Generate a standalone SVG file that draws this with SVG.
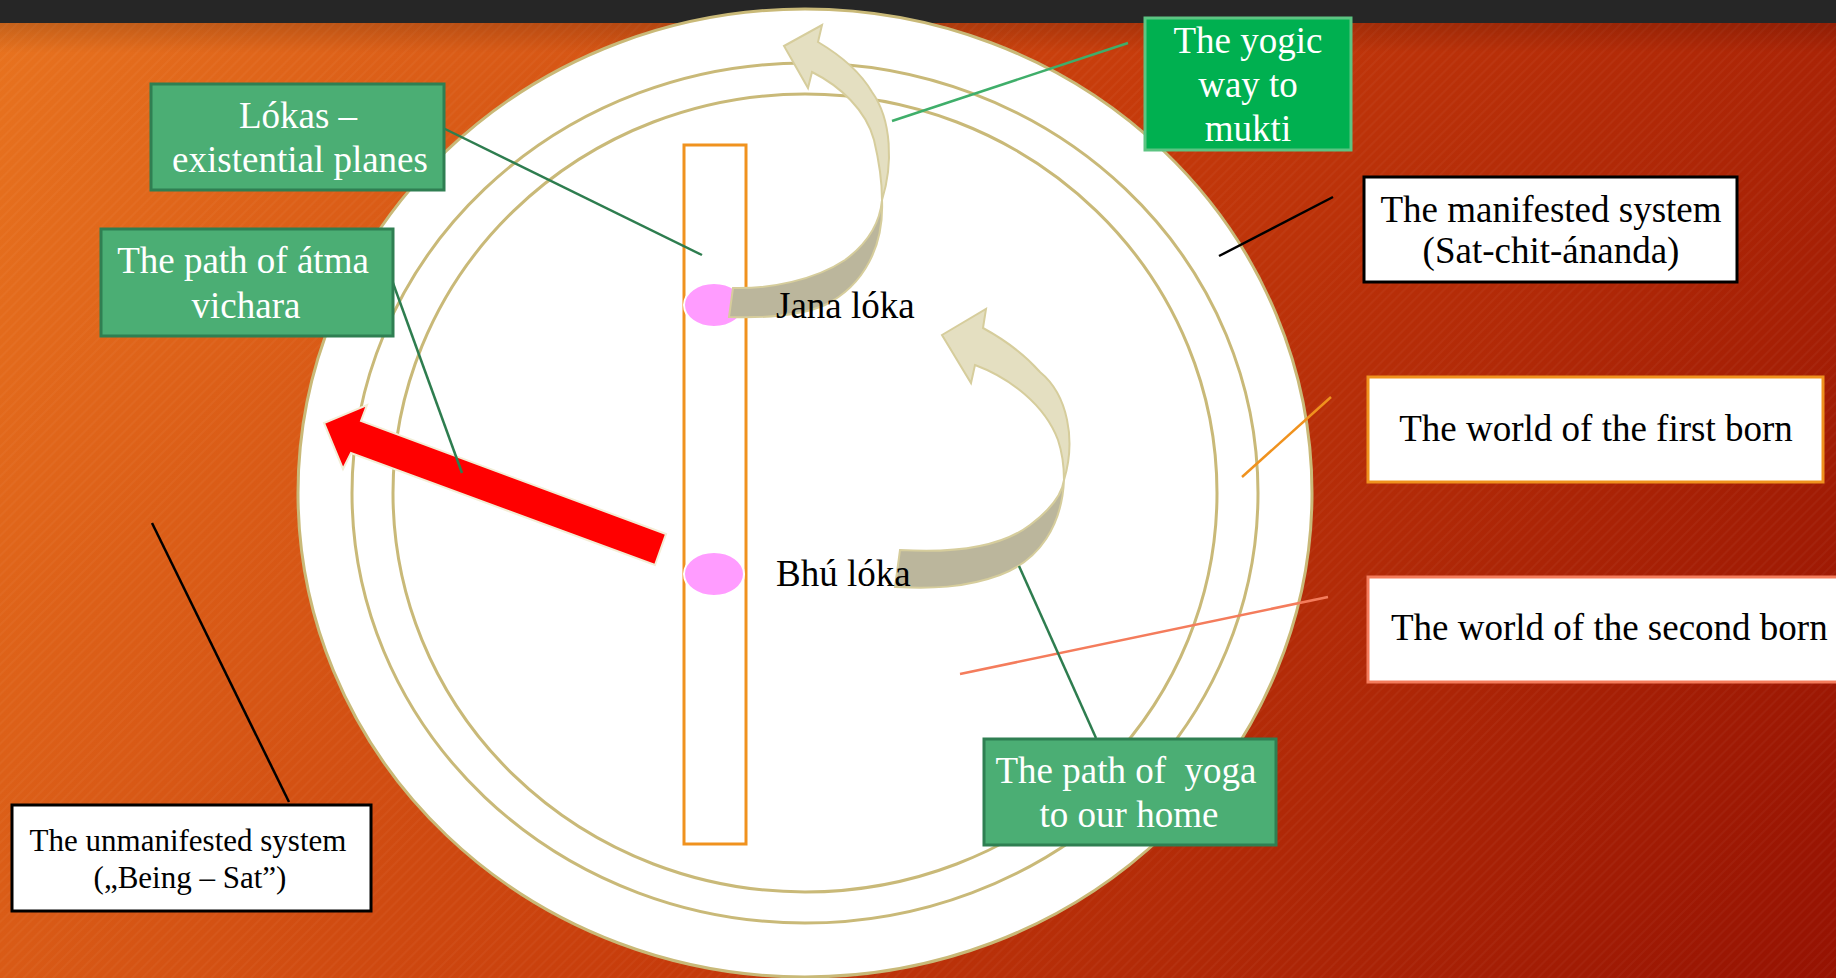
<svg xmlns="http://www.w3.org/2000/svg" width="1836" height="978" viewBox="0 0 1836 978">
<defs>
<linearGradient id="bg" gradientUnits="userSpaceOnUse" x1="0" y1="0" x2="1836" y2="978">
<stop offset="0" stop-color="#e8731f"/>
<stop offset="0.5" stop-color="#c63b0b"/>
<stop offset="1" stop-color="#961202"/>
</linearGradient>
<linearGradient id="shadow" x1="0" y1="0" x2="0" y2="1">
<stop offset="0" stop-color="#000" stop-opacity="0.15"/>
<stop offset="1" stop-color="#000" stop-opacity="0"/>
</linearGradient>
<pattern id="stripes" width="7" height="7" patternUnits="userSpaceOnUse" patternTransform="rotate(45)">
<rect x="0" y="0" width="2" height="7" fill="#fff" fill-opacity="0.035"/>
</pattern>
<style>
.ring{fill:none;stroke:#c9b978;stroke-width:3}
.gbox{fill:#4bae74;stroke:#2f7f52;stroke-width:3}
.ybox{fill:#00b050;stroke:#5cc482;stroke-width:3}
.wbox{fill:#fff;stroke:#000;stroke-width:3}
.t{font-family:"Liberation Serif","Times New Roman",serif;font-size:37px}
.ts{font-family:"Liberation Serif","Times New Roman",serif;font-size:31px}
.w{fill:#fff}
.k{fill:#000}
.light{fill:#e4dfc1;stroke:#d6cd9c;stroke-width:2}
.dark{fill:#bbb69c;stroke:#d6cd9c;stroke-width:2}
.dot{fill:#ff9cff;stroke:#fff;stroke-width:2}
</style>
</defs>
<rect width="1836" height="978" fill="url(#bg)"/>
<rect width="1836" height="978" fill="url(#stripes)"/>
<rect x="0" y="23" width="1836" height="30" fill="url(#shadow)"/>
<rect x="0" y="0" width="1836" height="23" fill="#262626"/>

<g id="circle">
<ellipse cx="805" cy="493" rx="507" ry="484" fill="#fff" stroke="#c9b978" stroke-width="3"/>
<ellipse class="ring" cx="805" cy="493" rx="453" ry="430"/>
<ellipse class="ring" cx="805" cy="493" rx="412" ry="399"/>
</g>

<g id="column">
<rect x="684" y="145" width="62" height="699" fill="#fff" stroke="#f0921e" stroke-width="3"/>
<ellipse class="dot" cx="714" cy="305" rx="30" ry="22"/>
<ellipse class="dot" cx="714" cy="574" rx="30" ry="22"/>
</g>

<g id="red-arrow">
<polygon points="666,534 361,421 367,405 324,423 343,469 351,453 655,565" fill="#ff0000" stroke="#f3edd6" stroke-width="2" stroke-linejoin="miter"/>
</g>

<g id="arrow-upper">
<path class="dark" d="M 882,200 C 884,245 865,285 825,305 C 800,316 760,318 729,317 L 733,288 C 770,289 815,280 845,260 C 868,243 880,222 882,200 Z"/>
<path class="light" d="M 882,200 C 893,165 892,120 872,92 C 862,75 845,58 818,42 L 822,25 L 784,46 L 808,88 L 812,72 C 840,86 866,110 874,140 C 880,165 882,185 882,200 Z"/>
</g>

<g id="arrow-lower">
<path class="dark" d="M 1064,480 C 1062,525 1040,560 1000,575 C 965,588 930,589 895,587 L 900,550 C 950,553 1000,548 1030,525 C 1050,510 1062,495 1064,480 Z"/>
<path class="light" d="M 1064,480 C 1076,440 1068,395 1040,372 C 1025,355 1005,340 983,328 L 986,309 L 942,335 L 971,383 L 975,365 C 1010,378 1045,405 1058,440 C 1063,455 1064,468 1064,480 Z"/>
</g>

<g id="labels-loka">
<text class="t k" x="776" y="318">Jana lóka</text>
<text class="t k" x="776" y="586">Bhú lóka</text>
</g>

<g id="connectors" fill="none" stroke-width="2.5">
<line x1="441" y1="127" x2="702" y2="255" stroke="#2e7d4f"/>
<line x1="389" y1="272" x2="462" y2="473" stroke="#2e7d4f"/>
<line x1="1128" y1="43" x2="892" y2="121" stroke="#3fae6a"/>
<line x1="1333" y1="197" x2="1219" y2="256" stroke="#000"/>
<line x1="1331" y1="397" x2="1242" y2="477" stroke="#f0921e"/>
<line x1="1328" y1="597" x2="960" y2="674" stroke="#f47c5c"/>
<line x1="152" y1="523" x2="289" y2="802" stroke="#000"/>
<line x1="1019" y1="566" x2="1096" y2="738" stroke="#2e7d4f"/>
</g>

<g id="lokas">
<rect class="gbox" x="151" y="84" width="293" height="106"/>
<text class="t w" text-anchor="middle" x="298" y="128">Lókas –</text>
<text class="t w" text-anchor="middle" x="300" y="172">existential planes</text>
</g>

<g id="atma">
<rect class="gbox" x="101" y="229" width="292" height="107"/>
<text class="t w" text-anchor="middle" x="243" y="273">The path of átma</text>
<text class="t w" text-anchor="middle" x="246" y="318">vichara</text>
</g>

<g id="yogic">
<rect class="ybox" x="1145" y="18" width="206" height="132"/>
<text class="t w" text-anchor="middle" x="1248" y="53">The yogic</text>
<text class="t w" text-anchor="middle" x="1248" y="97">way to</text>
<text class="t w" text-anchor="middle" x="1248" y="141">mukti</text>
</g>

<g id="manifested">
<rect class="wbox" x="1364" y="177" width="373" height="105"/>
<text class="t k" text-anchor="middle" x="1551" y="222">The manifested system</text>
<text class="t k" text-anchor="middle" x="1551" y="263">(Sat-chit-ánanda)</text>
</g>

<g id="first-born">
<rect x="1368" y="377" width="455" height="105" fill="#fff" stroke="#f0921e" stroke-width="3"/>
<text class="t k" text-anchor="middle" x="1596" y="441">The world of the first born</text>
</g>

<g id="second-born">
<rect x="1368" y="577" width="490" height="105" fill="#fff" stroke="#f47c5c" stroke-width="3"/>
<text class="t k" x="1391" y="640">The world of the second born</text>
</g>

<g id="unmanifested">
<rect class="wbox" x="12" y="805" width="359" height="106"/>
<text class="ts k" text-anchor="middle" x="188" y="851">The unmanifested system</text>
<text class="ts k" text-anchor="middle" x="190" y="888">(„Being – Sat”)</text>
</g>

<g id="yoga-home">
<rect class="gbox" x="984" y="739" width="292" height="106"/>
<text class="t w" text-anchor="middle" x="1126" y="783" style="white-space:pre">The path of  yoga</text>
<text class="t w" text-anchor="middle" x="1129" y="827">to our home</text>
</g>
</svg>
